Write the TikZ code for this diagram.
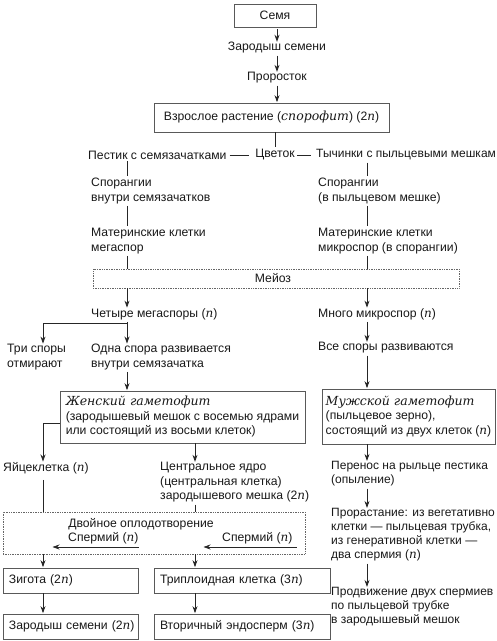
\documentclass[tikz,border=0pt]{standalone}
\usepackage{fontspec}
\setmainfont{Liberation Sans}
\newfontfamily\serifit{DejaVu Serif}
\usetikzlibrary{arrows.meta}
\newcommand{\nv}{{\serifit\itshape\fontsize{12}{14}\selectfont n}}
\newcommand{\itl}[1]{{\serifit\itshape\fontsize{12.5}{14}\selectfont #1}}
\begin{document}
\begin{tikzpicture}[x=1pt,y=-1pt,
  font=\fontsize{12.2}{14.5}\selectfont,
  txt/.style={inner sep=0pt, align=left, text=black!90},
  bx/.style={draw=black!65, line width=0.7pt, inner ysep=0pt, text=black!90},
  dbx/.style={draw=black!60, line width=0.7pt, densely dotted, inner sep=0pt},
  ln/.style={draw=black!85, line width=0.8pt, shorten <=2pt, shorten >=2pt},
  ar/.style={ln, -{Stealth[length=7pt,width=5pt]}, shorten >=0.5pt},
  sm/.style={font=\fontsize{12}{14}\selectfont},
]
\fill[white] (0,0) rectangle (497,641);
\useasboundingbox (0,0) rectangle (497,641);
% column coordinates
\coordinate (cY) at (43,0);
\coordinate (cL) at (127,0);
\coordinate (cC) at (195,0);
\coordinate (cR) at (367,0);

% top chain
\node[bx, minimum width=82pt, minimum height=23pt] (semya) at (275,15.5) {Семя};
\node[txt] (zs) at (277,48) {Зародыш семени};
\node[txt] (pr) at (277,78) {Проросток};
\node[bx, minimum width=235pt, minimum height=29pt] (vr) at (271.5,117.5) {Взрослое растение (\itl{спорофит}) (2\nv)};
\node[txt, anchor=west] (pest) at (88,155) {Пестик с семязачатками};
\node[txt] (cvet) at (275,155) {Цветок};
\node[txt, sm, anchor=west] (tych) at (316,155) {Тычинки с пыльцевыми мешкам};

% left column
\node[txt, anchor=west] (spL) at (91,191) {Спорангии\\внутри семязачатков};
\node[txt, anchor=west] (matL) at (91,241) {Материнские клетки\\мегаспор};
% right column
\node[txt, anchor=west] (spR) at (318,191) {Спорангии\\(в пыльцевом мешке)};
\node[txt, anchor=west] (matR) at (318,241) {Материнские клетки\\микроспор (в спорангии)};

\node[dbx, minimum width=366pt, minimum height=19pt] (meioz) at (276,278.5) {};
\node[txt] (meiozt) at (273,278.5) {Мейоз};

\node[txt, anchor=west] (chet) at (91,314) {Четыре мегаспоры (\nv)};
\node[txt, anchor=west] (tri) at (7,357) {Три споры\\отмирают};
\node[txt, anchor=west] (odna) at (91,357) {Одна спора развивается\\внутри семязачатка};
\node[txt, anchor=west] (mnogo) at (318,314) {Много микроспор (\nv)};
\node[txt, anchor=west] (vse) at (318,348) {Все споры развиваются};

\node[bx, align=left, minimum width=245pt, minimum height=52pt] (zhen) at (182.5,417)
  {\itl{Женский гаметофит}\\(зародышевый мешок с восемью ядрами\\или состоящий из восьми клеток)};
\node[bx, align=left, minimum width=173pt, minimum height=55pt] (muzh) at (408.5,416.5)
  {\itl{Мужской гаметофит}\\(пыльцевое зерно),\\состоящий из двух клеток (\nv)};

\node[txt, anchor=west] (yaic) at (3,468) {Яйцеклетка (\nv)};
\node[txt, anchor=west] (centr) at (160,482.5) {Центральное ядро\\(центральная клетка)\\зародышевого мешка (2\nv)};

\node[dbx, minimum width=302pt, minimum height=42pt] (dvoin) at (154,533) {};
\node[txt] (dvoint) at (141,524) {Двойное оплодотворение};
\node[txt, anchor=west] (sp1) at (68,538) {Спермий (\nv)};
\node[txt, anchor=west] (sp2) at (222,538) {Спермий (\nv)};

\node[bx, text width=123pt, inner xsep=6pt, align=left, minimum height=25pt] (zig) at (70.5,580.5) {Зигота (2\nv)};
\node[bx, text width=123pt, inner xsep=6pt, align=left, minimum height=25pt] (zar) at (70.5,626.5) {Зародыш~семени~(2\nv)};
\node[bx, text width=164pt, inner xsep=6pt, align=left, minimum height=25pt] (trip) at (242,580.5) {Триплоидная клетка (3\nv)};
\node[bx, text width=164pt, inner xsep=6pt, align=left, minimum height=25pt] (vtor) at (242,626.5) {Вторичный эндосперм (3\nv)};

\node[txt, sm, anchor=west] (per) at (331,474) {Перенос на рыльце пестика\\(опыление)};
\node[txt, sm, anchor=west] (pror) at (331,535) {Прорастание: из вегетативно\\клетки — пыльцевая трубка,\\из генеративной клетки —\\два спермия (\nv)};
\node[txt, sm, anchor=west] (prod) at (331,607) {Продвижение двух спермиев\\по пыльцевой трубке\\в зародышевый мешок};

% connectors top
\draw[ar] (semya.south -| zs) -- (zs.north);
\draw[ar] (zs.south) -- (pr.north);
\draw[ar] (pr.south) -- (vr.north -| pr);
\draw[ln, shorten <=0pt] (vr.south -| cvet) -- (cvet.north);
\draw[ln, shorten <=3pt, shorten >=6pt] (pest.east) -- (cvet.west);
\draw[ln, shorten <=2pt, shorten >=5pt] (cvet.east) -- (tych.west);

% left column lines
\draw[ln] (pest.south -| cL) -- (spL.north -| cL);
\draw[ln] (spL.south -| cL) -- (matL.north -| cL);
\draw[ln, shorten >=0pt] (matL.south -| cL) -- (meioz.north -| cL);
\draw[ar, shorten <=0pt] (meioz.south -| cL) -- (chet.north -| cL);
\coordinate (brR) at (127,323);
\coordinate (brL) at (43,323);
\draw[ln, shorten >=0pt] (chet.south -| cL) -- (brR);
\draw[ln, shorten <=0pt, shorten >=0pt] (brR) -- (brL);
\draw[ar, shorten <=0pt] (brL) -- (tri.north -| cY);
\draw[ar, shorten <=0pt] (brR) -- (odna.north -| cL);
\draw[ar] (odna.south -| cL) -- (zhen.north -| cL);

% right column lines
\draw[ln] (tych.south -| cR) -- (spR.north -| cR);
\draw[ln] (spR.south -| cR) -- (matR.north -| cR);
\draw[ln, shorten >=0pt] (matR.south -| cR) -- (meioz.north -| cR);
\draw[ar, shorten <=0pt] (meioz.south -| cR) -- (mnogo.north -| cR);
\draw[ar] (mnogo.south -| cR) -- (vse.north -| cR);
\draw[ar] (vse.south -| cR) -- (muzh.north -| cR);
\draw[ar, shorten <=0pt] (muzh.south -| cR) -- (per.north -| cR);
\draw[ar] (per.south -| cR) -- (pror.north -| cR);
\draw[ar] (pror.south -| cR) -- (prod.north -| cR);

% female gametophyte branches
\coordinate (zy) at (0,423);
\draw[ar, shorten <=0pt] (zhen.west |- zy) -| (yaic.north -| cY);
\draw[ar, shorten <=0pt] (zhen.south -| cC) -- (centr.north -| cC);
\draw[ln, shorten <=6pt, shorten >=0pt] (yaic.south -| cY) -- (dvoin.north -| cY);
\draw[ln, shorten >=0pt] (centr.south -| cC) -- (dvoin.north -| cC);

% sperm arrows
\coordinate (a1) at (52,547);
\coordinate (a2) at (203,547);
\draw[ar, shorten <=0pt] (sp1.south east |- a1) -- (a1);
\draw[ar, shorten <=0pt] ([xshift=4pt]sp2.south east |- a2) -- (a2);

% lower boxes
\draw[ar, shorten <=0pt] (dvoin.south -| cY) -- (zig.north -| cY);
\draw[ar, shorten <=0pt] (dvoin.south -| cC) -- (trip.north -| cC);
\draw[ar, shorten <=0pt] (zig.south -| cY) -- (zar.north -| cY);
\draw[ar, shorten <=0pt] (trip.south -| cC) -- (vtor.north -| cC);
\end{tikzpicture}
\end{document}
